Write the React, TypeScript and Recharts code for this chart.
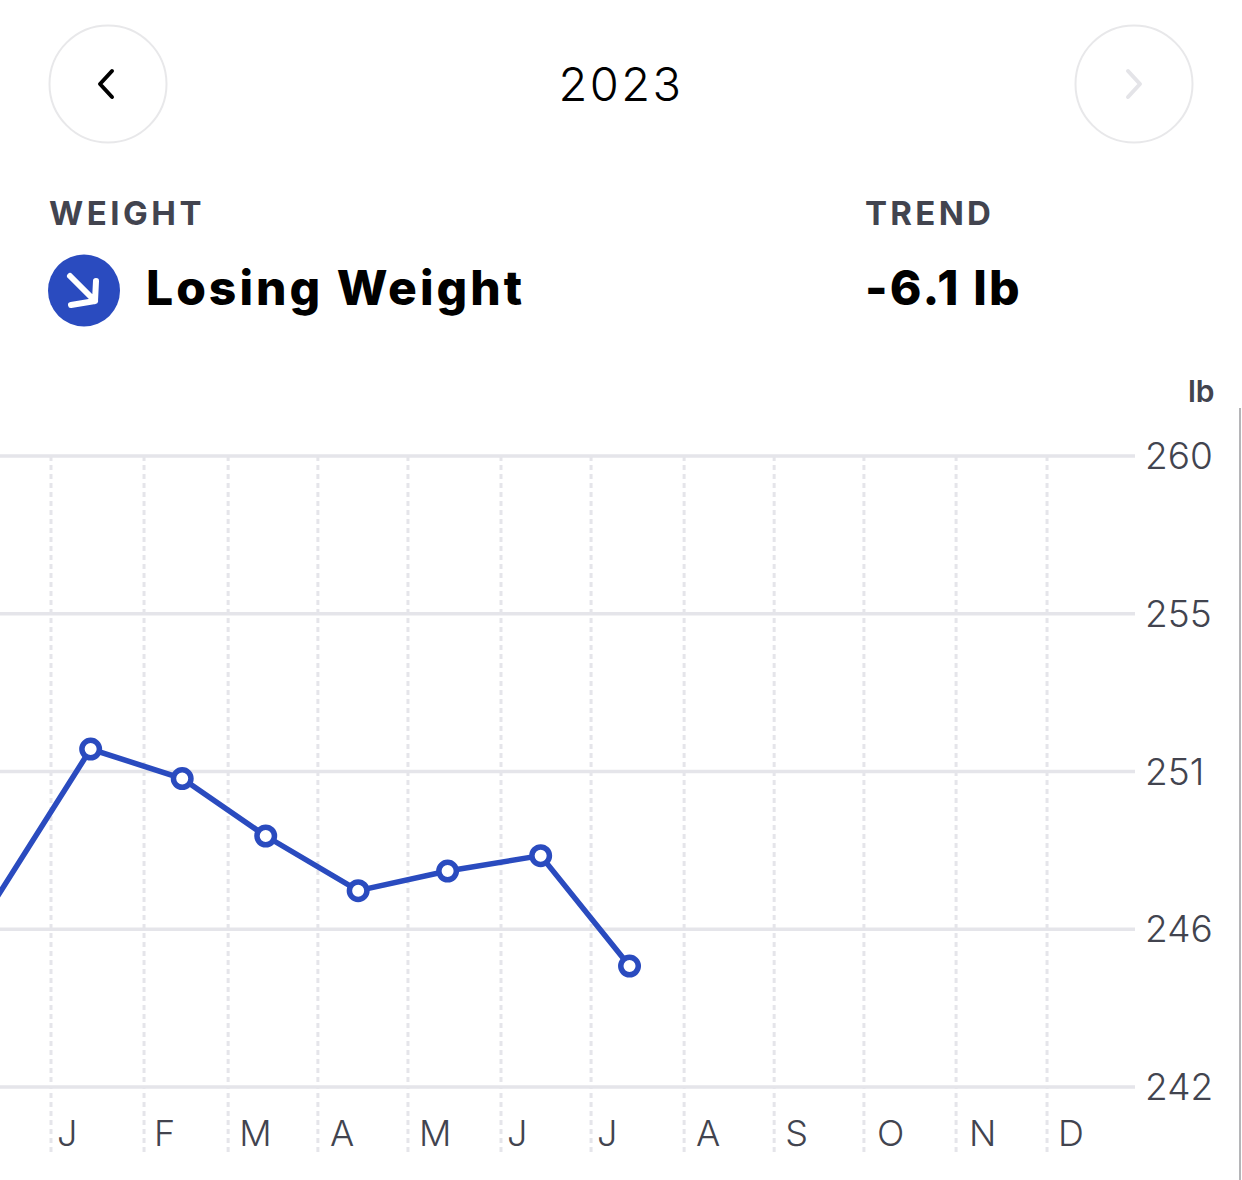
import { LineChart, Line, XAxis, YAxis, CartesianGrid } from 'recharts'

const monthLabels = ['J', 'F', 'M', 'A', 'M', 'J', 'J', 'A', 'S', 'O', 'N', 'D']
// where each month's gridline sits, in days from Jan 1
const monthStarts = [0, 31.2, 59.4, 89.5, 119.7, 150.9, 181.1, 212.3, 242.5, 272.6, 303.5, 334]
const weightTicks = [242, 246.5, 251, 255.5, 260]

// day of year (negative = Dec of the year before, off the left edge) and weight in lb
const days = [-30, 13.3, 44, 72, 103, 133, 164.2, 194]
const weights = [245.82, 251.64, 250.8, 249.16, 247.6, 248.16, 248.6, 245.45]

const data = days.map((day, i) => ({ day, weight: weights[i] }))

const BLUE = '#2a4bbf'
const GRID = '#e5e5ea'
const INK = '#42444f'
const FONT = 'Inter, sans-serif'

// Inter's glyphs sit a bit differently from the original font, so nudge a few of them
const glyphNudge: Record<string, number> = { J: -5, F: -1, A: 1, O: 2, N: 2 }

function MonthTick({ x, y, payload }: any) {
  const label = monthLabels[monthStarts.indexOf(payload.value)]
  return (
    <text x={x + 11 + (glyphNudge[label] ?? 0)} y={y - 8} textAnchor="start" fontFamily={FONT} fontWeight={300} fontSize={36} fill={INK}>
      {label}
    </text>
  )
}

function Label({ x, y, size, weight, color, spacing, children }: any) {
  return (
    <div style={{ position: 'absolute', left: x, top: y, fontFamily: FONT, fontSize: size, fontWeight: weight, color, letterSpacing: spacing, lineHeight: 1, whiteSpace: 'nowrap' }}>
      {children}
    </div>
  )
}

function NavButton({ x, stroke, d }: { x: number; stroke: string; d: string }) {
  return (
    <svg style={{ position: 'absolute', left: x, top: 24 }} width={120} height={120}>
      <circle cx={60} cy={60} r={58.5} fill="#fff" stroke="#e8e8ea" strokeWidth={2} />
      <path d={d} fill="none" stroke={stroke} strokeWidth={4} strokeLinecap="round" strokeLinejoin="round" />
    </svg>
  )
}

export default function App() {
  return (
    <div style={{ position: 'absolute', left: 0, top: 0, width: 1242, height: 1180, background: '#fff', overflow: 'hidden' }}>
      <LineChart width={1242} height={1180} data={data} margin={{ top: 456, right: 0, bottom: 0, left: 0 }}>
        <CartesianGrid horizontal={false} syncWithTicks stroke={GRID} strokeWidth={3} strokeDasharray="5 4" />
        <CartesianGrid vertical={false} stroke={GRID} strokeWidth={3.5} />
        <XAxis
          type="number"
          dataKey="day"
          domain={[-17.1, 363.5]}
          allowDataOverflow
          ticks={monthStarts}
          interval={0}
          height={93}
          axisLine={false}
          tickSize={65}
          tickLine={{ stroke: GRID, strokeWidth: 3, strokeDasharray: '5 4' }}
          tick={<MonthTick />}
        />
        <YAxis
          orientation="right"
          domain={[242, 260]}
          ticks={weightTicks}
          interval={0}
          width={107}
          axisLine={false}
          tickLine={false}
          tickMargin={4}
          tickFormatter={(v: number) => String(Math.floor(v))}
          tick={{ fontFamily: FONT, fontWeight: 300, fontSize: 37, fill: INK, textAnchor: 'start' }}
        />
        <Line
          type="linear"
          dataKey="weight"
          stroke={BLUE}
          strokeWidth={5.5}
          dot={{ r: 8.75, fill: '#fff', stroke: BLUE, strokeWidth: 5.5 }}
          isAnimationActive={false}
        />
      </LineChart>

      <NavButton x={48} stroke="#000" d="M64 47 L52 60 L64 73" />
      <NavButton x={1073.5} stroke="#e4e4e8" d="M54 47 L66 60 L54 73" />

      <div style={{ position: 'absolute', left: 0, top: 60, width: 1242, textAlign: 'center', fontFamily: FONT, fontSize: 47, fontWeight: 300, letterSpacing: 2.5, lineHeight: 1, color: '#000' }}>2023</div>

      <Label x={49} y={197} size={33} weight={700} color={INK} spacing={3.5}>WEIGHT</Label>
      <Label x={865} y={197} size={33} weight={700} color={INK} spacing={3.3}>TREND</Label>

      <svg style={{ position: 'absolute', left: 48, top: 254 }} width={72} height={73}>
        <circle cx={36} cy={36.5} r={36} fill={BLUE} />
        <path d="M22 22 L47 47 M48 27 L47 47 L23 51" fill="none" stroke="#fff" strokeWidth={6} strokeLinecap="round" strokeLinejoin="round" />
      </svg>

      <Label x={146} y={264} size={48} weight={800} color="#000" spacing={3}>Losing Weight</Label>
      <Label x={865} y={264} size={48} weight={800} color="#000" spacing={2.2}>-6.1 lb</Label>

      <Label x={1188} y={376} size={30} weight={600} color={INK} spacing={0}>lb</Label>
      <div style={{ position: 'absolute', left: 1239, top: 408, width: 2, height: 772, background: '#b5b5b8' }} />
    </div>
  )
}
